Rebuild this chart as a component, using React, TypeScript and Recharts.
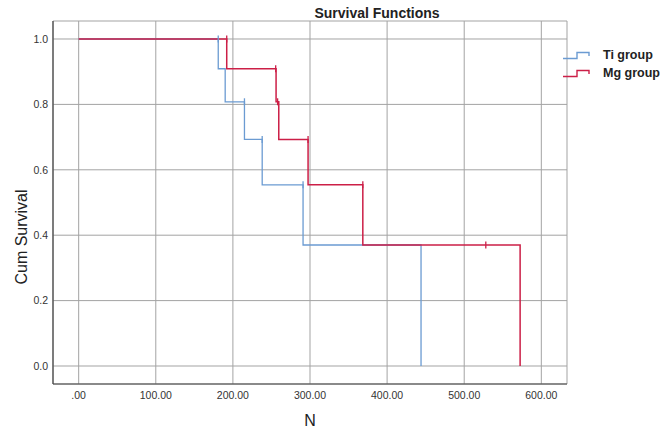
import React from 'react';
import { ComposedChart, Line, Scatter, XAxis, YAxis, CartesianGrid } from 'recharts';

// Kaplan-Meier steps (time -> cumulative survival)
const tiTimes = [0, 181, 190, 215, 238, 291, 444];
const tiSurv = [1, 0.909, 0.808, 0.693, 0.554, 0.37, 0];
const tiCensorTimes = [181, 215, 238, 291];
const tiCensorSurv = [1, 0.808, 0.693, 0.554];

const mgTimes = [0, 192, 256, 259.5, 297.5, 368.5, 572.5];
const mgSurv = [1, 0.909, 0.808, 0.693, 0.554, 0.37, 0];
const mgCensorTimes = [192, 255.5, 258, 297.5, 368.5, 528];
const mgCensorSurv = [1, 0.909, 0.808, 0.693, 0.554, 0.37];

const xTicks = [0, 100, 200, 300, 400, 500, 600];
const yTicks = [0, 0.2, 0.4, 0.6, 0.8, 1.0];

const TI_COLOR = '#6b9bd2';
const MG_COLOR = '#cc1f47';
const FONT = '"Liberation Sans", Arial, sans-serif';

const toRows = (t: number[], s: number[]) => t.map((v, i) => ({ t: v, s: s[i] }));

const tiData = toRows(tiTimes, tiSurv);
const mgData = toRows(mgTimes, mgSurv);
const tiCensor = toRows(tiCensorTimes, tiCensorSurv);
const mgCensor = toRows(mgCensorTimes, mgCensorSurv);

const censorMark = (color: string) => (props: any) => {
  const { cx, cy } = props;
  return <line x1={cx} x2={cx} y1={cy - 3.5} y2={cy + 3.5} stroke={color} strokeWidth={1.3} />;
};

const LegendIcon = ({ color }: { color: string }) => (
  <svg width={30} height={9} style={{ display: 'block' }}>
    <polyline points="1,7.5 15,7.5 15,1.5 27,1.5 27,5" fill="none" stroke={color} strokeWidth={1.4} />
  </svg>
);

export default function App() {
  return (
    <div style={{ position: 'relative', width: 669, height: 433, background: '#fff', fontFamily: FONT }}>
      <style>{`body{margin:0;}`}</style>
      <ComposedChart width={669} height={433} margin={{ top: 21, right: 102, left: 8, bottom: 19 }}>
        <CartesianGrid stroke="#a3a3a3" strokeWidth={1} />
        <XAxis
          dataKey="t"
          type="number"
          domain={[-33.3, 633.3]}
          ticks={xTicks}
          allowDataOverflow
          height={30}
          tickLine={false}
          tickSize={6}
          tickMargin={2}
          axisLine={{ stroke: '#444', strokeWidth: 1.2 }}
          tickFormatter={(v: number) => (v === 0 ? '.00' : v.toFixed(2))}
          tick={{ fontSize: 10.5, fill: '#333', fontFamily: FONT }}
        />
        <YAxis
          type="number"
          domain={[-0.055, 1.055]}
          ticks={yTicks}
          allowDataOverflow
          width={45}
          tickLine={false}
          tickSize={3}
          tickMargin={2}
          axisLine={{ stroke: '#444', strokeWidth: 1.2 }}
          tickFormatter={(v: number) => v.toFixed(1)}
          tick={{ fontSize: 10.5, fill: '#333', fontFamily: FONT }}
        />
        <Line data={tiData} dataKey="s" type="stepAfter" stroke={TI_COLOR} strokeWidth={1.3} dot={false} activeDot={false} isAnimationActive={false} />
        <Line data={mgData} dataKey="s" type="stepAfter" stroke={MG_COLOR} strokeWidth={1.5} dot={false} activeDot={false} isAnimationActive={false} />
        <Scatter data={tiCensor} dataKey="s" shape={censorMark(TI_COLOR)} isAnimationActive={false} />
        <Scatter data={mgCensor} dataKey="s" shape={censorMark(MG_COLOR)} isAnimationActive={false} />
      </ComposedChart>

      <div style={{ position: 'absolute', left: 377, top: 13, transform: 'translate(-50%, -50%)', fontSize: 14, fontWeight: 'bold', color: '#222', whiteSpace: 'nowrap' }}>
        Survival Functions
      </div>
      <div style={{ position: 'absolute', left: 310, top: 421, transform: 'translate(-50%, -50%)', fontSize: 16, color: '#222' }}>
        N
      </div>
      <div style={{ position: 'absolute', left: 22, top: 237, transform: 'translate(-50%, -50%) rotate(-90deg)', fontSize: 16, color: '#222', whiteSpace: 'nowrap' }}>
        Cum Survival
      </div>

      <div style={{ position: 'absolute', left: 562, top: 46, fontSize: 12.5, fontWeight: 'bold', color: '#222' }}>
        <div style={{ display: 'flex', alignItems: 'center', height: 18 }}>
          <LegendIcon color={TI_COLOR} />
          <span style={{ marginLeft: 11 }}>Ti group</span>
        </div>
        <div style={{ display: 'flex', alignItems: 'center', height: 18 }}>
          <LegendIcon color={MG_COLOR} />
          <span style={{ marginLeft: 11 }}>Mg group</span>
        </div>
      </div>
    </div>
  );
}
